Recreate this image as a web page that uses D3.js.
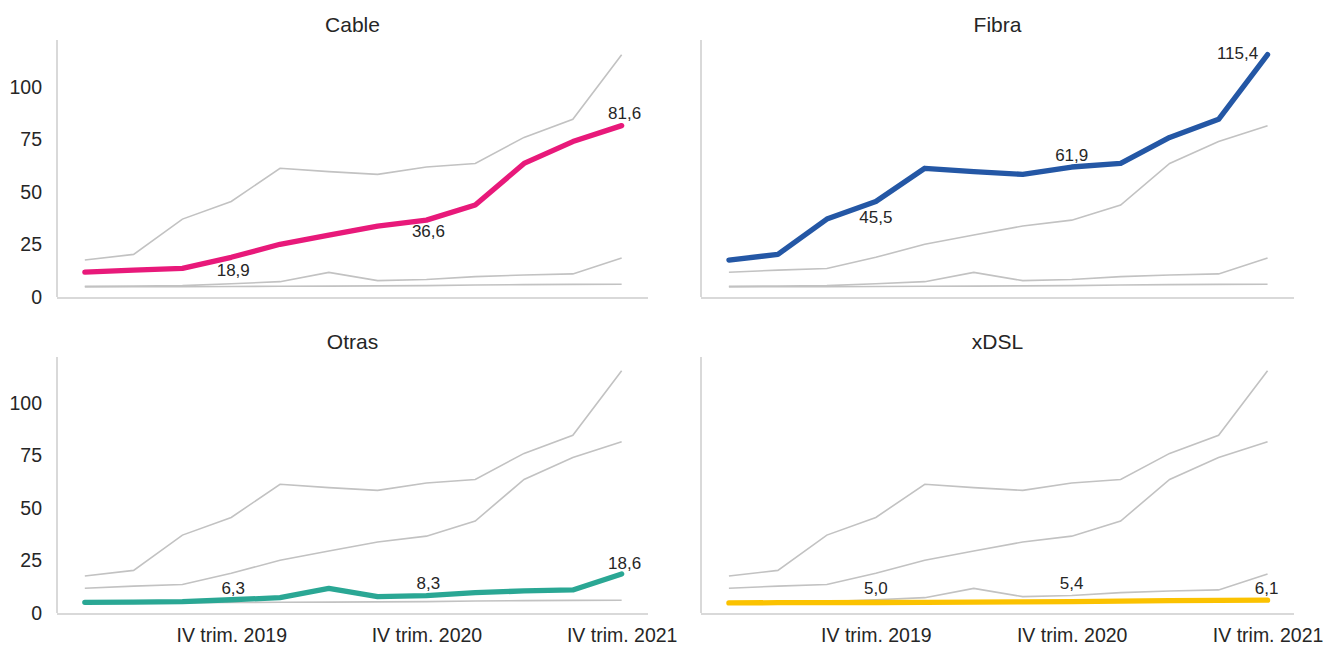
<!DOCTYPE html>
<html lang="es">

<head>
    <meta charset="UTF-8">
    <title>Cable, Fibra, Otras, xDSL</title>
    <style>
        body,
        html {
            margin: 0;
            padding: 0;
            background: #fff;
            overflow: hidden;
        }

        svg {
            display: block;
            font-family: "Liberation Sans", Arial, sans-serif;
        }

        .axis path {
            stroke: #cccccc;
            stroke-width: 1.5;
            fill: none;
        }

        .axis line {
            display: none;
        }

        .axis text {
            fill: #262626;
            font-size: 19.5px;
        }

        .title {
            fill: #262626;
            font-size: 21px;
            text-anchor: middle;
        }

        .bg-line {
            fill: none;
            stroke: #c2c2c2;
            stroke-width: 1.6;
        }

        .main-line {
            fill: none;
            stroke-width: 5.3;
            stroke-linecap: round;
            stroke-linejoin: round;
        }

        .label {
            fill: #262626;
            font-size: 17px;
            text-anchor: middle;
            dominant-baseline: central;
        }
    </style>
</head>

<body>
    <svg></svg>

    <script src="https://d3js.org/d3.v7.min.js"></script>
    <script>
        // quarters I trim. 2019 .. IV trim. 2021
        const quarters = [
            "I trim. 2019", "II trim. 2019", "III trim. 2019", "IV trim. 2019",
            "I trim. 2020", "II trim. 2020", "III trim. 2020", "IV trim. 2020",
            "I trim. 2021", "II trim. 2021", "III trim. 2021", "IV trim. 2021"
        ];
        const xTicks = ["IV trim. 2019", "IV trim. 2020", "IV trim. 2021"];
        const yTicks = [0, 25, 50, 75, 100];

        const techs = ["Cable", "Fibra", "Otras", "xDSL"];
        const cable = [11.8, 12.8, 13.6, 18.9, 25.1, 29.5, 33.8, 36.6, 43.8, 63.6, 74.0, 81.6];
        const fibra = [17.6, 20.3, 37.1, 45.5, 61.3, 59.7, 58.4, 61.9, 63.6, 76.0, 84.6, 115.4];
        const otras = [5.1, 5.2, 5.4, 6.3, 7.3, 11.7, 7.8, 8.3, 9.7, 10.5, 11.0, 18.6];
        const xdsl = [4.8, 4.9, 4.9, 5.0, 5.1, 5.2, 5.3, 5.4, 5.7, 5.9, 6.0, 6.1];
        const colors = ["#e8197a", "#2457a5", "#2aa794", "#fbc200"];

        // which points get a value label
        const labelIdx = [3, 7, 11];

        const seriesList = [cable, fibra, otras, xdsl];

        // label nudges (dx, dy) per panel, per labelled point
        const labelNudge = [
            [[2, 13], [2, 11], [3, -12]],
            [[0, 16], [0, -12], [-30, -1.5]],
            [[2, -11], [2, -12], [3, -10.5]],
            [[0, -14], [0, -18], [-1, -12]]
        ];

        const W = 1323, H = 647;
        const svg = d3.select("svg").attr("width", W).attr("height", H);

        // panel frames: left edge of y axis, right end of x axis, top, bottom
        const panels = [
            { x0: 57, x1: 648, y0: 40, y1: 297 },
            { x0: 701, x1: 1294, y0: 40, y1: 297 },
            { x0: 57, x1: 648, y0: 357, y1: 613 },
            { x0: 701, x1: 1294, y0: 357, y1: 613 }
        ];

        const fmt = v => d3.format(".1f")(v).replace(".", ",");

        techs.forEach((name, p) => {
            const f = panels[p];
            const g = svg.append("g");

            const x = d3.scaleLinear()
                .domain([-0.57, 11.54])
                .range([f.x0, f.x1]);
            const y = d3.scaleLinear()
                .domain([0, (f.y1 - f.y0) / 2.1])
                .range([f.y1, f.y0]);

            const line = d3.line()
                .x((d, i) => x(i))
                .y(d => y(d));

            // title
            g.append("text")
                .attr("class", "title")
                .attr("x", (f.x0 + f.x1) / 2)
                .attr("y", f.y0 - 8)
                .text(name);

            // y axis (labels only on left column)
            const yAxis = d3.axisLeft(y).tickValues(yTicks).tickSize(0).tickPadding(15);
            const gy = g.append("g")
                .attr("class", "axis")
                .attr("transform", `translate(${f.x0},0)`)
                .call(yAxis);
            if (p % 2 === 1) gy.selectAll("text").remove();
            gy.select("path").attr("d", `M0,${f.y0}V${f.y1}`);

            // x axis (labels only on bottom row)
            const xAxis = d3.axisBottom(x)
                .tickValues(xTicks.map(t => quarters.indexOf(t)))
                .tickFormat(i => quarters[i])
                .tickSize(0).tickPadding(14);
            const gx = g.append("g")
                .attr("class", "axis")
                .attr("transform", `translate(0,${f.y1 + 1})`)
                .call(xAxis);
            if (p < 2) gx.selectAll("text").remove();
            gx.select("path").attr("d", `M${f.x0},0H${f.x1}`);

            // other technologies in grey
            seriesList.forEach((s, j) => {
                if (j === p) return;
                g.append("path")
                    .datum(s)
                    .attr("class", "bg-line")
                    .attr("d", line);
            });

            // highlighted technology
            const s = seriesList[p];
            g.append("path")
                .datum(s)
                .attr("class", "main-line")
                .attr("stroke", colors[p])
                .attr("d", line);

            g.selectAll(".label")
                .data(labelIdx)
                .enter().append("text")
                .attr("class", "label")
                .attr("x", (i, k) => x(i) + labelNudge[p][k][0])
                .attr("y", (i, k) => y(s[i]) + labelNudge[p][k][1])
                .text(i => fmt(s[i]));
        });
    </script>
</body>

</html>
